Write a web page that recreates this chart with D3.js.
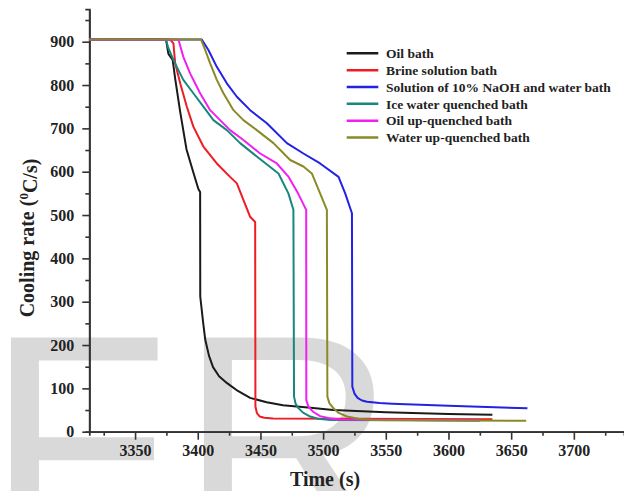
<!DOCTYPE html>
<html>
<head>
<meta charset="utf-8">
<script src="https://cdn.jsdelivr.net/npm/d3@7/dist/d3.min.js"></script>
<style>
  body { margin: 0; background: #fff; }
  svg { display: block; }
  text { font-family: "Liberation Serif", "Times New Roman", serif; font-weight: bold; fill: #222; }
</style>
</head>
<body>
<svg id="chart" width="624" height="491"></svg>
<script>
"use strict";

// series: [time (s), cooling rate (oC/s)]
var oilBath = [[3313.5,905],[3374.7,905],[3376.6,872],[3380,858],[3382,815],[3386,738],[3391,652],[3396.5,598],[3400.5,560],[3401.9,553],[3402,312],[3404.3,252],[3406,212],[3409,175],[3412.2,149],[3417,128],[3423.4,112],[3432,94],[3441.8,78],[3455,68],[3468,61],[3490,55],[3508,50],[3550,45],[3600,41],[3635,39]];
var brineBath = [[3313.5,905],[3378,905],[3380.6,896],[3382,850],[3386,804],[3391.3,750],[3396.5,704],[3404.5,658],[3415.2,619],[3425.8,588],[3431.2,573],[3436.4,535],[3441.8,496],[3445.8,484],[3446,58],[3447.2,43],[3449.5,35],[3453,32],[3460,30.5],[3635,29]];
var naohBath = [[3313.5,905],[3403.2,905],[3408.5,881],[3415.2,842],[3423.2,804],[3431.2,773],[3441.8,742],[3455.1,712],[3471.1,666],[3484.3,642],[3497.6,619],[3512.3,588],[3517.6,550],[3523,504],[3523.3,104],[3525,88],[3527.5,78],[3531,72],[3535,69],[3545,66],[3555,64.5],[3600,60],[3663,54]];
var iceBath = [[3313.5,905],[3374.7,904],[3376.6,885],[3380.6,858],[3383.3,842],[3388.5,812],[3396.5,781],[3404.5,750],[3412.5,719],[3423.2,696],[3433.8,666],[3447.1,635],[3464.4,596],[3472.3,550],[3476.3,512],[3476.8,81],[3478,65],[3480.1,55],[3484,44],[3489.7,35],[3496,30],[3506,27],[3625,26]];
var oilUpBath = [[3313.5,905],[3384.6,905],[3388.5,865],[3393.9,827],[3401.9,781],[3409.9,742],[3417.8,719],[3425.8,696],[3436.4,673],[3449.8,642],[3463.1,619],[3472.5,588],[3480,550],[3486.5,512],[3486.6,73],[3488.3,58],[3492,46],[3497.6,36],[3505,31],[3513.6,28],[3625,26]];
var waterUpBath = [[3313.5,905],[3402.7,905],[3405.9,881],[3409.9,850],[3415.2,812],[3420.5,781],[3428.5,742],[3436.4,719],[3447.1,696],[3460.4,666],[3473.7,627],[3484.3,612],[3491,596],[3497.6,550],[3503,512],[3503.4,81],[3505,66],[3508.3,54],[3512,44],[3519,35],[3528,30],[3540.2,27],[3662,25]];

var seriesNames = ['Oil bath', 'Brine solution bath', 'Solution of 10% NaOH and water bath',
  'Ice water quenched bath', 'Oil up-quenched bath', 'Water up-quenched bath'];
var seriesColors = ['#1a1a1a', '#ee1c24', '#2222e6', '#17877f', '#f020f0', '#8a8a26'];
var seriesData = [oilBath, brineBath, naohBath, iceBath, oilUpBath, waterUpBath];

var xMajor = [3350, 3400, 3450, 3500, 3550, 3600, 3650, 3700];
var xMinor = [3325, 3375, 3425, 3475, 3525, 3575, 3625, 3675, 3725];
var yMajor = [0, 100, 200, 300, 400, 500, 600, 700, 800, 900];
var yMinor = [50, 150, 250, 350, 450, 550, 650, 750, 850, 950];

var svg = d3.select('#chart');

// watermark behind everything
var wm = svg.append('g').attr('class', 'watermark');
wm.append('text').attr('x', -13.7).attr('y', 544).text('F');
wm.append('text').attr('x', 179.3).attr('y', 544).text('R');
wm.selectAll('text')
  .style('font-family', '"Liberation Sans", Arial, sans-serif')
  .style('font-weight', 'normal')
  .style('font-size', '300px')
  .style('fill', '#d9d9d9');

var x = d3.scaleLinear().domain([3313.5, 3740]).range([89.3, 624]);
var y = d3.scaleLinear().domain([0, 975]).range([431.7, 9.2]);

function styleAxis(g) {
  g.selectAll('path.domain').attr('stroke', '#333').attr('stroke-width', 1.8);
  g.selectAll('.tick line').attr('stroke', '#333').attr('stroke-width', 1.6);
  g.selectAll('text').attr('fill', '#222').style('font-size', '16px')
    .style('font-family', '"Liberation Serif", serif').style('font-weight', 'bold');
}

// minor ticks first (no labels)
svg.append('g')
  .attr('transform', 'translate(0,' + y(0) + ')')
  .call(d3.axisBottom(x).tickValues(xMinor).tickSize(4).tickFormat(''))
  .call(styleAxis);
svg.append('g')
  .attr('transform', 'translate(' + x.range()[0] + ',0)')
  .call(d3.axisLeft(y).tickValues(yMinor).tickSize(4).tickFormat(''))
  .call(styleAxis);

svg.append('g')
  .attr('transform', 'translate(0,' + y(0) + ')')
  .call(d3.axisBottom(x).tickValues(xMajor).tickSize(8).tickSizeOuter(0).tickPadding(5).tickFormat(d3.format('d')))
  .call(styleAxis);
svg.append('g')
  .attr('transform', 'translate(' + x.range()[0] + ',0)')
  .call(d3.axisLeft(y).tickValues(yMajor).tickSize(7).tickSizeOuter(0).tickPadding(8).tickFormat(d3.format('d')))
  .call(styleAxis);

// curves
var line = d3.line()
  .x(d => x(d[0]))
  .y(d => y(d[1]));

svg.append('g').attr('class', 'curves')
  .selectAll('path')
  .data(seriesData)
  .enter()
  .append('path')
  .attr('d', line)
  .attr('fill', 'none')
  .attr('stroke', (d, i) => seriesColors[i])
  .attr('stroke-width', 2)
  .attr('stroke-linejoin', 'round');

// legend
var legend = svg.append('g').attr('class', 'legend')
  .selectAll('g')
  .data(seriesNames)
  .enter()
  .append('g')
  .attr('transform', (d, i) => 'translate(0,' + (53.3 + i * 16.85) + ')');

legend.append('line')
  .attr('x1', 346.7).attr('x2', 378.3)
  .attr('stroke', (d, i) => seriesColors[i])
  .attr('stroke-width', 2.5);

legend.append('text')
  .attr('x', 386)
  .attr('dy', '0.35em')
  .style('font-size', '13.5px')
  .text(d => d);

// axis titles
svg.append('text')
  .attr('x', 325).attr('y', 486)
  .attr('text-anchor', 'middle')
  .style('font-size', '20px')
  .text('Time (s)');

var yTitle = svg.append('text')
  .attr('transform', 'translate(34,238) rotate(-90)')
  .attr('text-anchor', 'middle')
  .style('font-size', '20px');
yTitle.append('tspan').text('Cooling rate (');
yTitle.append('tspan').attr('dy', '-0.45em').style('font-size', '13px').text('0');
yTitle.append('tspan').attr('dy', '0.45em').text('C/s)');
</script>
</body>
</html>
